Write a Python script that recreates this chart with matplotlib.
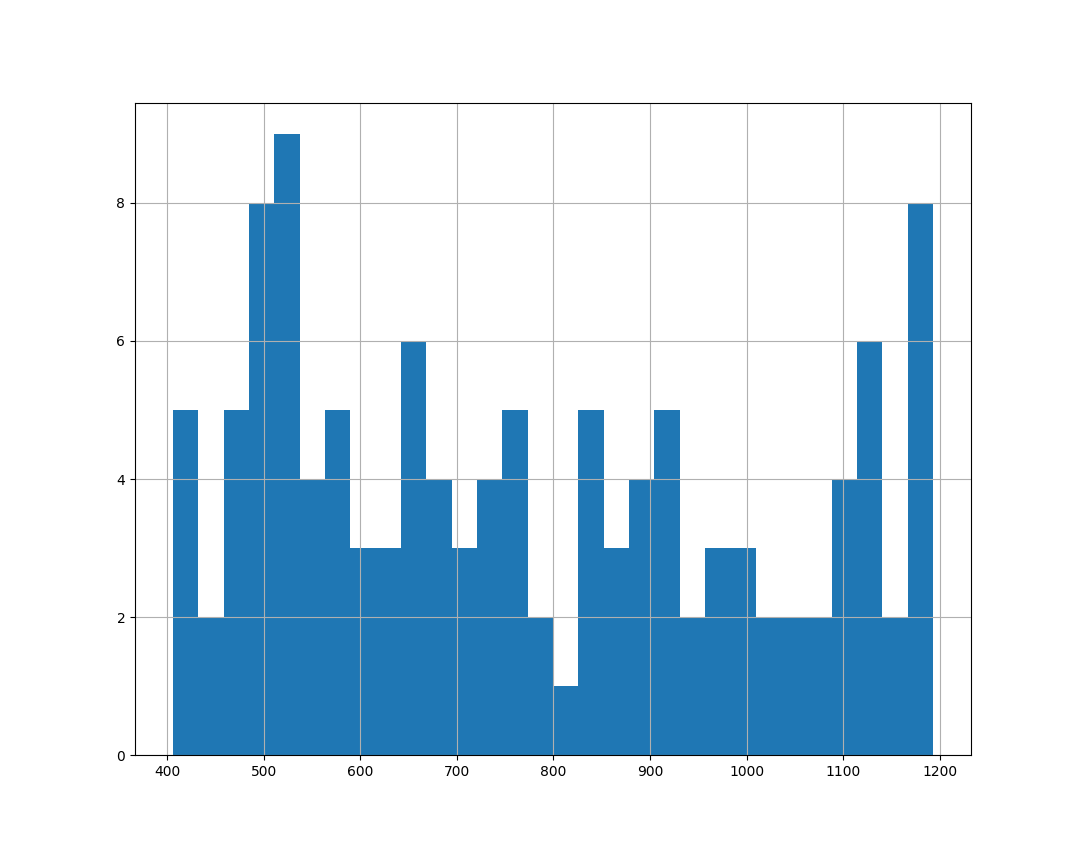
import numpy as np
import matplotlib
matplotlib.use("Agg")
import matplotlib.pyplot as plt

# histogram: 30 equal bins
x_min = 406.2
x_max = 1192.8
counts = [5, 2, 5, 8, 9, 4, 5, 3, 3, 6,
          4, 3, 4, 5, 2, 1, 5, 3, 4, 5,
          2, 3, 3, 2, 2, 2, 4, 6, 2, 8]

edges = np.linspace(x_min, x_max, len(counts) + 1)
centers = (edges[:-1] + edges[1:]) / 2

fig, ax = plt.subplots(figsize=(10.8, 8.64), dpi=100)
fig.subplots_adjust(left=0.125, right=0.899, bottom=0.126, top=0.881)
ax.hist(centers, bins=edges, weights=counts, color="#1f77b4")
ax.grid(True, color="#b0b0b0", linewidth=0.8)
ax.set_xticks(np.arange(400, 1201, 100))

fig.savefig("out.png")
